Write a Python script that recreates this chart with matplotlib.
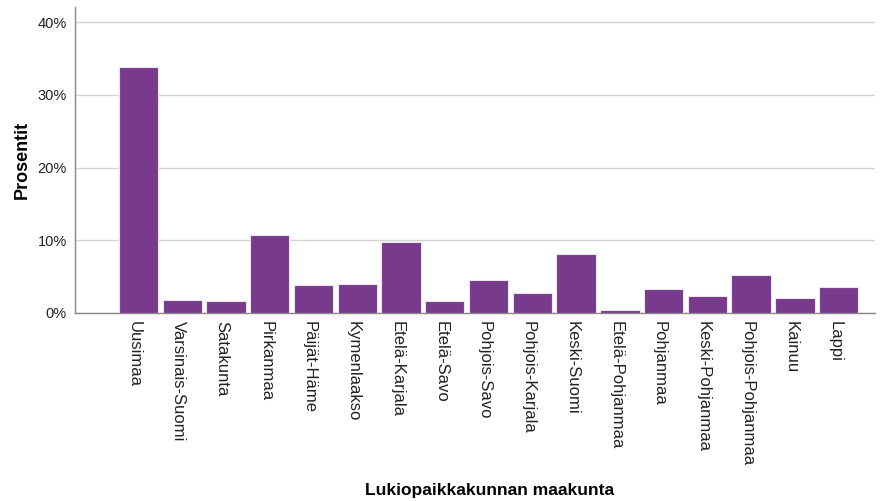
import matplotlib.pyplot as plt
import matplotlib.transforms as mtransforms
from matplotlib.ticker import FuncFormatter

regions = ["Uusimaa", "Varsinais-Suomi", "Satakunta", "Pirkanmaa", "Päijät-Häme",
           "Kymenlaakso", "Etelä-Karjala", "Etelä-Savo", "Pohjois-Savo",
           "Pohjois-Karjala", "Keski-Suomi", "Etelä-Pohjanmaa", "Pohjanmaa",
           "Keski-Pohjanmaa", "Pohjois-Pohjanmaa", "Kainuu", "Lappi"]
percent = [33.9, 1.8, 1.7, 10.8, 3.8, 4.0, 9.7, 1.7, 4.6, 2.7, 8.1, 0.4, 3.3,
           2.3, 5.2, 2.1, 3.6]
yticks = [0, 10, 20, 30, 40]

plt.rcParams['font.family'] = ['Liberation Sans', 'DejaVu Sans']

fig = plt.figure(figsize=(8.91, 5.01), dpi=100)
ax = fig.add_axes([75 / 891, 1 - 313 / 501, 800 / 891, 306 / 501])

x = range(len(regions))
ax.bar(x, percent, width=0.9, color="#773a8c", edgecolor="#ece2f0", linewidth=0.8, zorder=3)

ax.set_xlim(-1.45, 16.83)
ax.set_ylim(0, 42.1)
ax.set_yticks(yticks)
ax.yaxis.set_major_formatter(FuncFormatter(lambda v, p: f"{v:.0f}%"))
ax.grid(axis="y", color="#d4d4d4", linewidth=1, zorder=0)

ax.set_xticks(list(x))
ax.set_xticklabels(regions, rotation=-90, ha="center", va="top", fontsize=12)
ax.tick_params(axis="both", length=0, colors="#222222")
ax.tick_params(axis="y", labelsize=10.5, pad=6)
ax.tick_params(axis="x", pad=6)

# labels sit a bit left of the bar centres in the original
shift = mtransforms.ScaledTranslation(-4 / 100, 0, fig.dpi_scale_trans)
for lbl in ax.get_xticklabels():
    lbl.set_transform(lbl.get_transform() + shift)

for s in ["top", "right"]:
    ax.spines[s].set_visible(False)
for s in ["left", "bottom"]:
    ax.spines[s].set_color("#888888")
    ax.spines[s].set_linewidth(1)

ax.set_ylabel("Prosentit", fontsize=13, fontweight="bold", labelpad=5)
fig.text(490 / 891, 1 - 490 / 501, "Lukiopaikkakunnan maakunta", fontsize=12.5,
         fontweight="bold", ha="center", va="center")

fig.savefig("out.png", dpi=100)
